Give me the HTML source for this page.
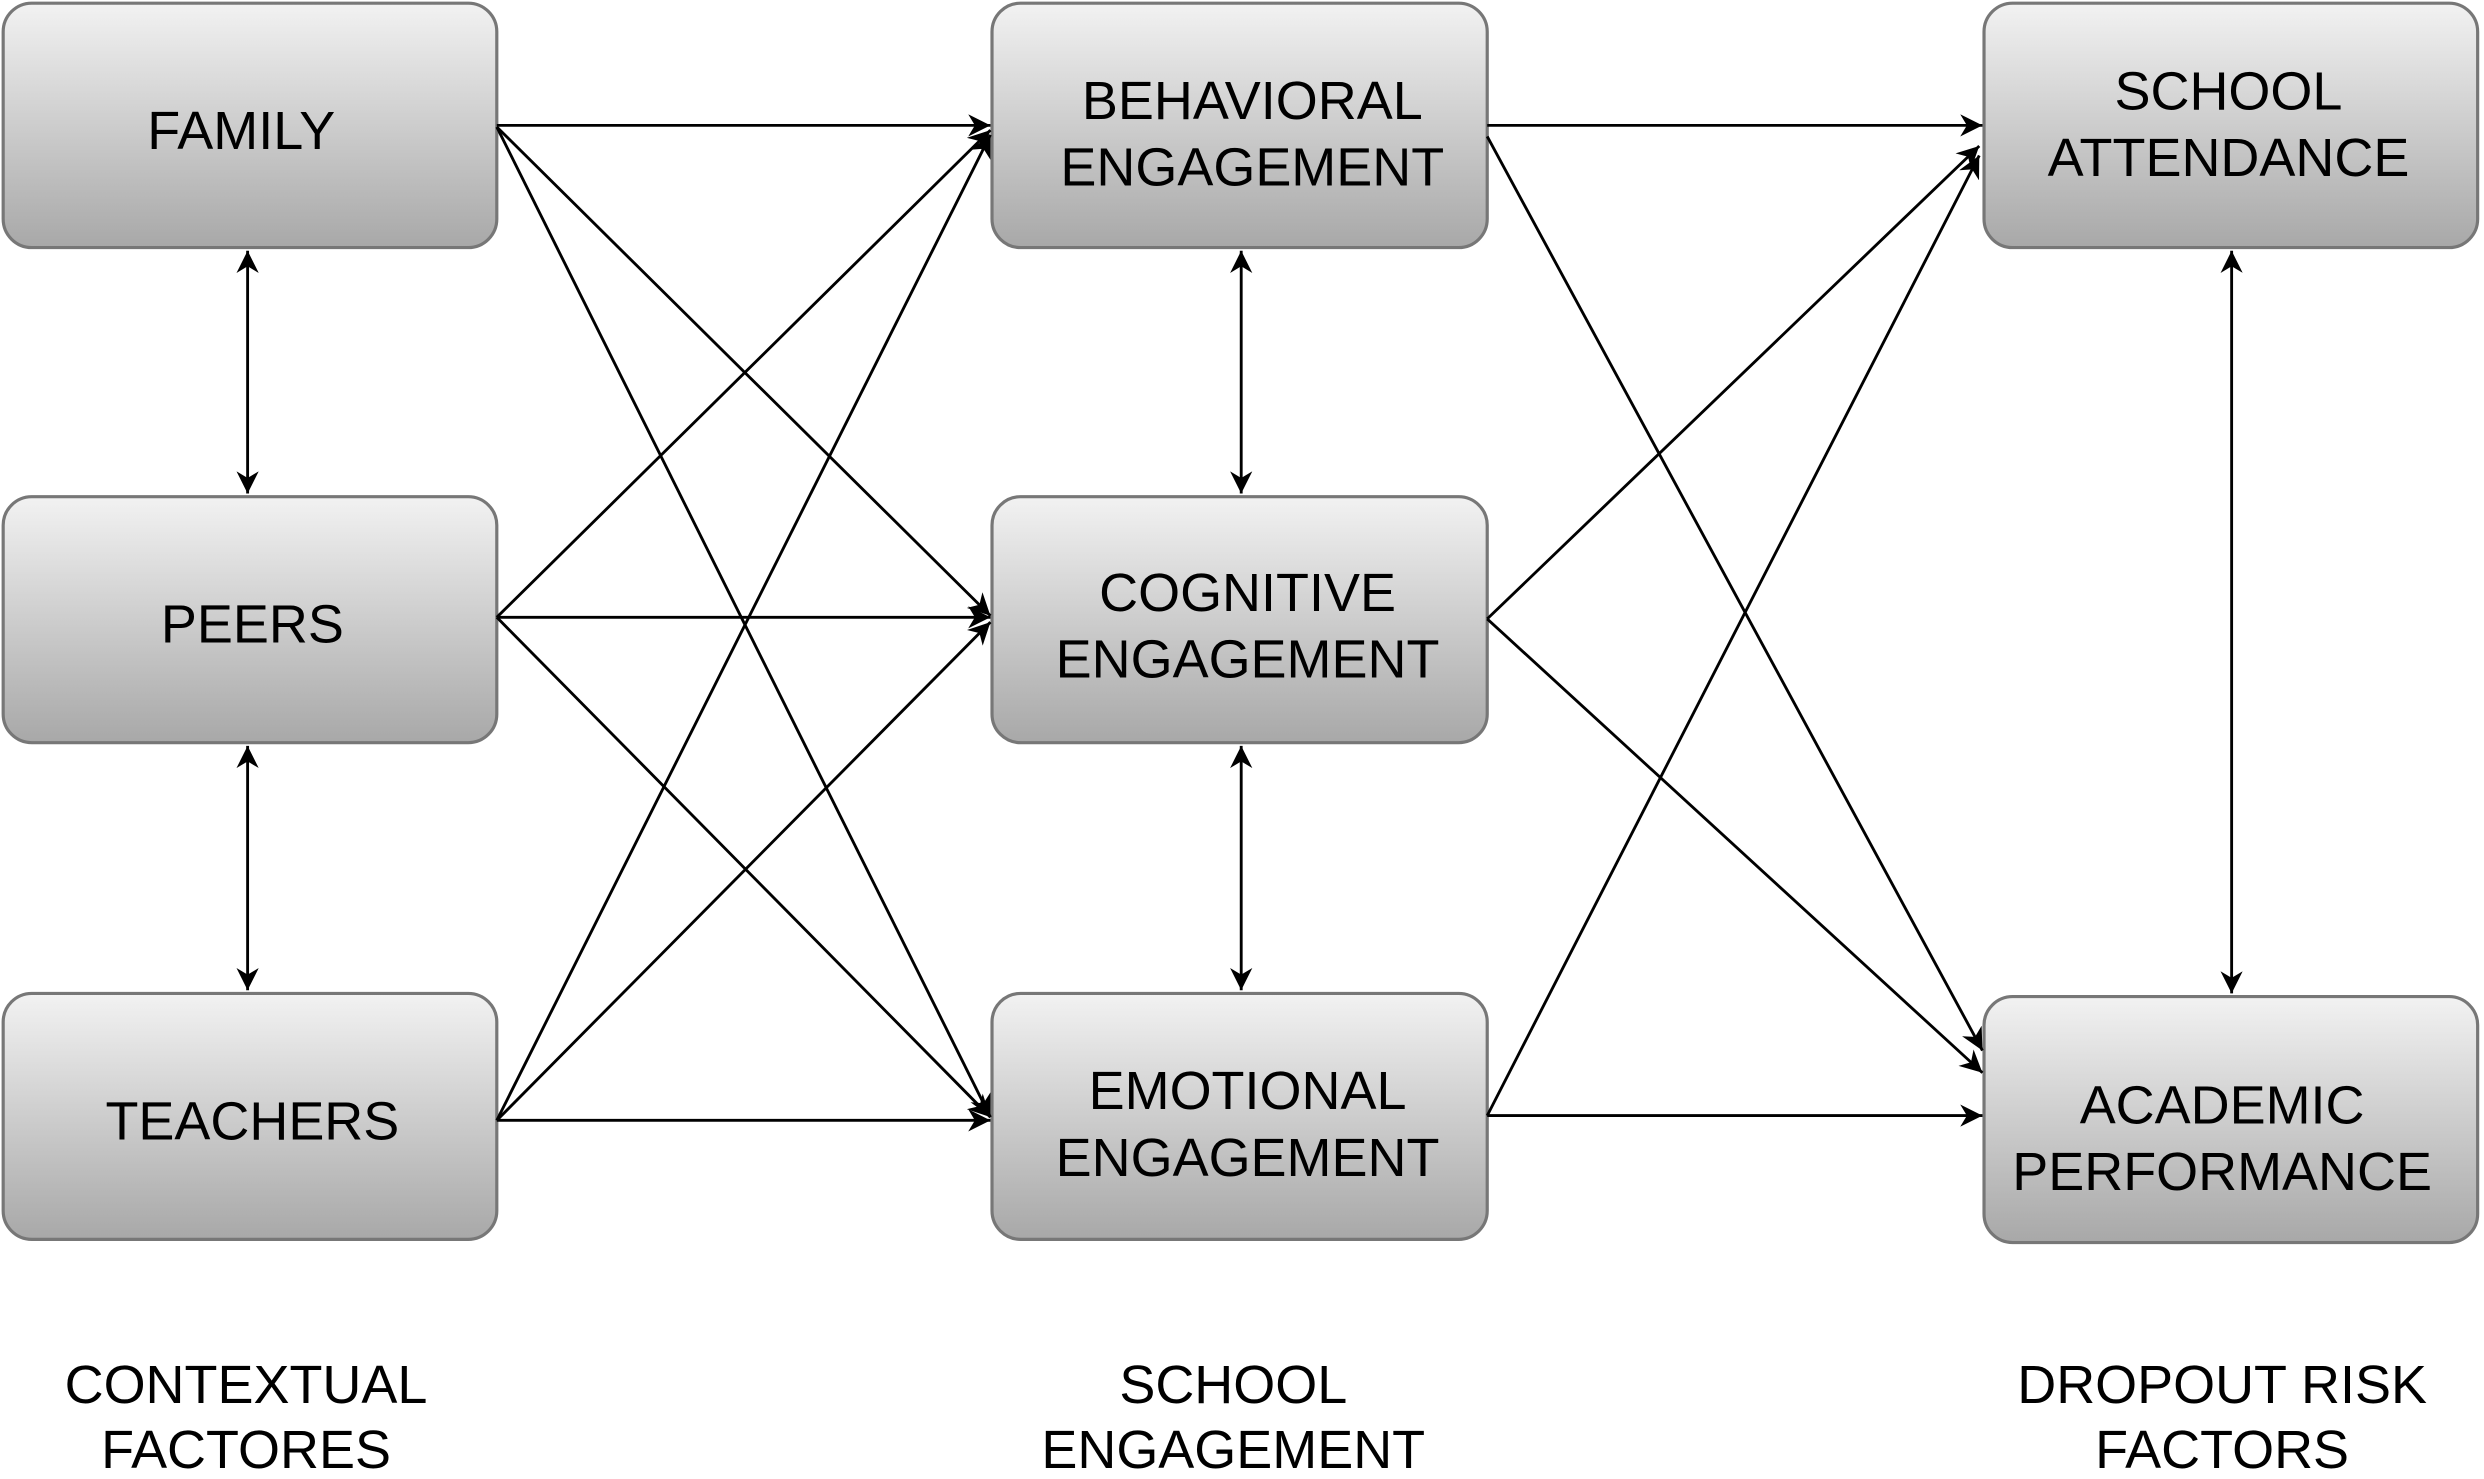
<!DOCTYPE html>
<html><head><meta charset="utf-8"><style>
html,body{margin:0;padding:0;background:#fff;}
svg{display:block;}
text{font-family:"Liberation Sans",Arial,sans-serif;fill:#000;}
</style></head><body>
<svg width="2484" height="1479" viewBox="0 0 1565 932" preserveAspectRatio="none" xmlns="http://www.w3.org/2000/svg">
<defs>
<linearGradient id="g" x1="0" y1="0" x2="0" y2="1">
<stop offset="0" stop-color="#f2f2f2"/><stop offset="1" stop-color="#a8a8a8"/>
</linearGradient>
<marker id="a" viewBox="0 0 10 10" refX="10" refY="5" markerWidth="9" markerHeight="9" markerUnits="userSpaceOnUse" orient="auto-start-reverse">
<path d="M0,0 L10,5 L0,10 L3,5 Z" fill="#000"/>
</marker>
<marker id="b" viewBox="0 0 10 10" refX="10" refY="5" markerWidth="14" markerHeight="14" markerUnits="userSpaceOnUse" orient="auto-start-reverse">
<path d="M0,0 L10,5 L0,10 L3,5 Z" fill="#000"/>
</marker>
</defs>
<g fill="url(#g)" stroke="#777" stroke-width="2">
<rect x="2" y="2" width="311" height="154" rx="18"/>
<rect x="2" y="313" width="311" height="155" rx="18"/>
<rect x="2" y="626" width="311" height="155" rx="18"/>
<rect x="625" y="2" width="312" height="154" rx="18"/>
<rect x="625" y="313" width="312" height="155" rx="18"/>
<rect x="625" y="626" width="312" height="155" rx="18"/>
<rect x="1250" y="2" width="311" height="154" rx="18"/>
<rect x="1250" y="628" width="311" height="155" rx="18"/>
</g>
<g stroke="#000" stroke-width="1.8" fill="none" marker-end="url(#b)">
<line x1="313" y1="79" x2="624" y2="79"/>
<line x1="313" y1="80" x2="624" y2="388"/>
<line x1="313" y1="80" x2="624" y2="704"/>
<line x1="313" y1="389" x2="624" y2="82"/>
<line x1="313" y1="389" x2="624" y2="389"/>
<line x1="313" y1="389" x2="624" y2="704"/>
<line x1="313" y1="706" x2="624" y2="85"/>
<line x1="313" y1="706" x2="624" y2="392"/>
<line x1="313" y1="706" x2="624" y2="706"/>
<line x1="937" y1="79" x2="1249" y2="79"/>
<line x1="937" y1="86" x2="1249" y2="662"/>
<line x1="937" y1="390" x2="1247" y2="92"/>
<line x1="937" y1="390" x2="1249" y2="676"/>
<line x1="937" y1="703" x2="1247" y2="98"/>
<line x1="937" y1="703" x2="1249" y2="703"/>
</g>
<g stroke="#000" stroke-width="1.8" fill="none" marker-start="url(#b)" marker-end="url(#b)">
<line x1="156" y1="158" x2="156" y2="311"/>
<line x1="156" y1="470" x2="156" y2="624"/>
<line x1="782" y1="158" x2="782" y2="311"/>
<line x1="782" y1="470" x2="782" y2="624"/>
<line x1="1406" y1="158" x2="1406" y2="626"/>
</g>
<g font-size="34" text-anchor="middle">
<text x="152" y="94">FAMILY</text>
<text x="159" y="405">PEERS</text>
<text x="159" y="718">TEACHERS</text>
<text x="789" y="75">BEHAVIORAL</text>
<text x="789" y="117">ENGAGEMENT</text>
<text x="786" y="385">COGNITIVE</text>
<text x="786" y="427">ENGAGEMENT</text>
<text x="786" y="699">EMOTIONAL</text>
<text x="786" y="741">ENGAGEMENT</text>
<text x="1404" y="69">SCHOOL</text>
<text x="1404" y="111">ATTENDANCE</text>
<text x="1400" y="708">ACADEMIC</text>
<text x="1400" y="750">PERFORMANCE</text>
<text x="155" y="884">CONTEXTUAL</text>
<text x="155" y="925">FACTORES</text>
<text x="777" y="884">SCHOOL</text>
<text x="777" y="925">ENGAGEMENT</text>
<text x="1400" y="884">DROPOUT RISK</text>
<text x="1400" y="925">FACTORS</text>
</g>
</svg>
</body></html>
